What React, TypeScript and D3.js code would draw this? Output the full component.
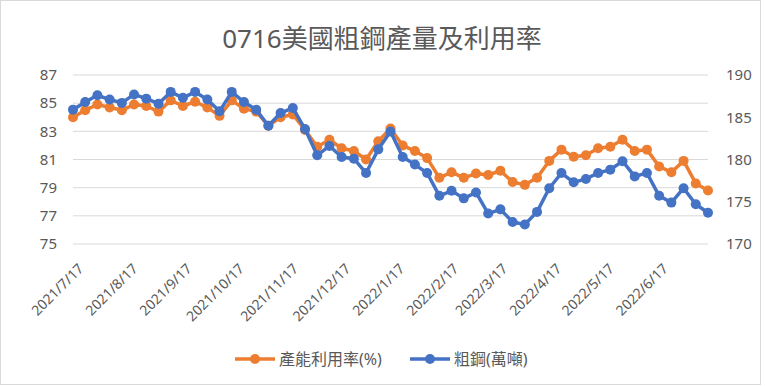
import React, { useEffect, useRef } from 'react';
import * as d3 from 'd3';

// weekly series, 2021/7/17 .. 2022/7/16
const utilization = [
  84.0, 84.5, 84.9, 84.7, 84.5, 84.9, 84.8, 84.4, 85.2, 84.8,
  85.1, 84.7, 84.1, 85.2, 84.6, 84.4, 83.4, 84.0, 84.2, 83.1,
  81.9, 82.4, 81.8, 81.6, 81.0, 82.3, 83.2, 82.0, 81.6, 81.1,
  79.7, 80.1, 79.7, 80.0, 79.9, 80.2, 79.4, 79.2, 79.7, 80.9,
  81.7, 81.2, 81.3, 81.8, 81.9, 82.4, 81.6, 81.7, 80.5, 80.1,
  80.9, 79.3, 78.8,
];
const crudeSteel = [
  185.9, 186.8, 187.6, 187.1, 186.7, 187.7, 187.2, 186.6, 188.0, 187.3,
  188.0, 187.1, 185.7, 188.0, 186.8, 185.9, 184.0, 185.5, 186.1, 183.6,
  180.5, 181.6, 180.3, 180.1, 178.4, 181.2, 183.3, 180.3, 179.4, 178.4,
  175.7, 176.3, 175.4, 176.1, 173.6, 174.1, 172.6, 172.3, 173.8, 176.6,
  178.4, 177.3, 177.7, 178.4, 178.8, 179.8, 178.0, 178.4, 175.7, 174.9,
  176.6, 174.7, 173.7,
];
const firstDate = '2021/7/17';
const tickLabels = [
  '2021/7/17', '2021/8/17', '2021/9/17', '2021/10/17', '2021/11/17', '2021/12/17',
  '2022/1/17', '2022/2/17', '2022/3/17', '2022/4/17', '2022/5/17', '2022/6/17',
];
const leftTicks = [75, 77, 79, 81, 83, 85, 87];
const rightTicks = [170, 175, 180, 185, 190];
const seriesNames = ['產能利用率(%)', '粗鋼(萬噸)'];
const title = '0716美國粗鋼產量及利用率';

const ORANGE = '#ED7D31';
const BLUE = '#4472C4';
const TEXT = '#595959';
const GRID = '#D9D9D9';
const FONT = '"Noto Sans", "Noto Sans CJK TC", sans-serif';

export default function App() {
  const ref = useRef<HTMLDivElement>(null);

  useEffect(() => {
    if (!ref.current) return;
    d3.select(ref.current).selectAll('*').remove();

    const width = 765;
    const height = 386;
    const parse = d3.timeParse('%Y/%m/%d');
    const start = parse(firstDate) as Date;
    const dates = utilization.map((_, i) => d3.timeDay.offset(start, 7 * i));

    const x = d3.scaleTime()
      .domain([dates[0], dates[dates.length - 1]])
      .range([73, 708]);
    const yL = d3.scaleLinear().domain([75, 87]).range([244, 75]);
    const yR = d3.scaleLinear().domain([170, 190]).range([244, 75]);

    const svg = d3.select(ref.current)
      .append('svg')
      .attr('width', width)
      .attr('height', height)
      .style('display', 'block')
      .style('font-family', FONT);

    svg.append('rect')
      .attr('x', 0.5).attr('y', 0.5)
      .attr('width', 760).attr('height', 384)
      .attr('fill', 'white')
      .attr('stroke', GRID);

    svg.append('text')
      .attr('x', 382).attr('y', 48)
      .attr('text-anchor', 'middle')
      .attr('fill', TEXT)
      .style('font-size', '26px')
      .text(title);

    // gridlines + left axis
    svg.append('g').selectAll('line')
      .data(leftTicks)
      .enter().append('line')
      .attr('x1', 73).attr('x2', 708)
      .attr('y1', d => yL(d)).attr('y2', d => yL(d))
      .attr('stroke', GRID).attr('stroke-width', 1);

    svg.append('g').selectAll('text')
      .data(leftTicks)
      .enter().append('text')
      .attr('x', 57).attr('y', d => yL(d))
      .attr('dy', '0.35em')
      .attr('text-anchor', 'end')
      .attr('fill', TEXT)
      .style('font-size', '15px')
      .text(d => d);

    svg.append('g').selectAll('text')
      .data(rightTicks)
      .enter().append('text')
      .attr('x', 726).attr('y', d => yR(d))
      .attr('dy', '0.35em')
      .attr('fill', TEXT)
      .style('font-size', '15px')
      .text(d => d);

    // date labels
    svg.append('g').selectAll('text')
      .data(tickLabels)
      .enter().append('text')
      .attr('transform', d => `translate(${x(parse(d) as Date) + 8},${266}) rotate(-45)`)
      .attr('text-anchor', 'end')
      .attr('dy', '0.35em')
      .attr('fill', TEXT)
      .style('font-size', '14px')
      .text(d => d);

    const drawSeries = (values: number[], y: d3.ScaleLinear<number, number>, color: string) => {
      const line = d3.line<number>()
        .x((_, i) => x(dates[i]))
        .y(d => y(d));
      const g = svg.append('g');
      g.append('path')
        .datum(values)
        .attr('d', line)
        .attr('fill', 'none')
        .attr('stroke', color)
        .attr('stroke-width', 3.5)
        .attr('stroke-linejoin', 'round');
      g.selectAll('circle')
        .data(values)
        .enter().append('circle')
        .attr('cx', (_, i) => x(dates[i]))
        .attr('cy', d => y(d))
        .attr('r', 5)
        .attr('fill', color);
    };
    drawSeries(utilization, yL, ORANGE);
    drawSeries(crudeSteel, yR, BLUE);

    // legend
    const legend = [
      { name: seriesNames[0], color: ORANGE, x: 235 },
      { name: seriesNames[1], color: BLUE, x: 410 },
    ];
    const lg = svg.append('g');
    legend.forEach(l => {
      lg.append('line')
        .attr('x1', l.x).attr('x2', l.x + 40)
        .attr('y1', 359).attr('y2', 359)
        .attr('stroke', l.color).attr('stroke-width', 3.5);
      lg.append('circle')
        .attr('cx', l.x + 20).attr('cy', 359).attr('r', 5)
        .attr('fill', l.color);
      lg.append('text')
        .attr('x', l.x + 44).attr('y', 359)
        .attr('dy', '0.35em')
        .attr('fill', TEXT)
        .style('font-size', '16px')
        .text(l.name);
    });
  }, []);

  return <div ref={ref} style={{ position: 'absolute', left: 0, top: 0 }} />;
}
